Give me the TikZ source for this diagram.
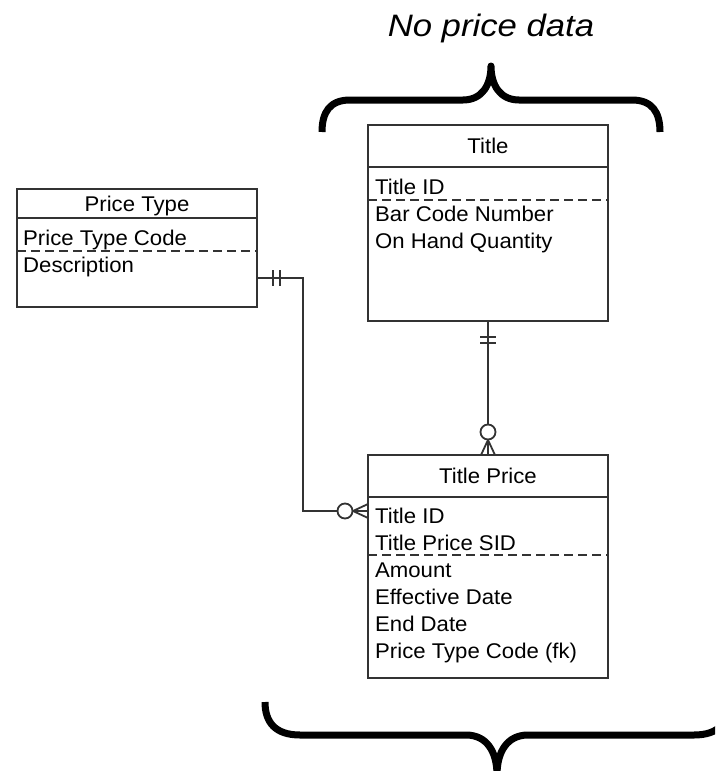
\documentclass[tikz,border=0pt]{standalone}
\usepackage{fontspec}
\setmainfont{Liberation Sans}[FakeStretch=1.04]
\newfontfamily\notefont{Liberation Sans}[FakeStretch=1.12]
\usetikzlibrary{positioning,calc}
\definecolor{erLine}{HTML}{333333}
\tikzset{
  entityhead/.style={draw=erLine, line width=1.8pt, minimum width=240pt, inner sep=0pt,
    outer sep=0pt, text height=15pt, text depth=0pt, font=\fontsize{21.3}{27}\selectfont},
  entitybody/.style={draw=erLine, line width=1.8pt, minimum width=240pt, inner sep=0pt,
    outer sep=0pt},
  attr/.style={anchor=base west, inner sep=0pt, font=\fontsize{21.3}{27}\selectfont},
  keyline/.style={draw=erLine, line width=1.6pt, dash pattern=on 9pt off 5pt},
  rel/.style={draw=erLine, line width=1.8pt},
  relmark/.style={draw=erLine, line width=1.8pt, fill=white},
  brace/.style={draw=black, line width=7pt, line join=round},
  notelabel/.style={font=\notefont\itshape\fontsize{31}{36}\selectfont}
}

\begin{document}
\begin{tikzpicture}[x=1pt,y=-1pt]
  \useasboundingbox (0,0) rectangle (715,771);
  \clip (0,0) rectangle (715,771);

  % entities
  \node[entityhead, minimum height=29pt] (ptype) at (137,203.5) {Price Type};
  \node[entitybody, minimum height=89pt, below=0pt of ptype] (ptypebody) {};
  \node[entityhead, minimum height=42pt] (title) at (488,146) {Title};
  \node[entitybody, minimum height=154pt, below=0pt of title] (titlebody) {};
  \node[entityhead, minimum height=42pt] (tprice) at (488,476) {Title Price};
  \node[entitybody, minimum height=181pt, below=0pt of tprice] (tpricebody) {};

  % attributes
  \node[attr] (ptcode) at ($(ptypebody.north west)+(6,27)$) {Price Type Code};
  \node[attr] (ptdesc) at ([yshift=-27pt]ptcode.base west) {Description};

  \node[attr] (tid) at ($(titlebody.north west)+(7,27)$) {Title ID};
  \node[attr] (tbarcode) at ([yshift=-27pt]tid.base west) {Bar Code Number};
  \node[attr] (tonhand) at ([yshift=-27pt]tbarcode.base west) {On Hand Quantity};

  \node[attr] (tpid) at ($(tpricebody.north west)+(7,26)$) {Title ID};
  \node[attr] (tpsid) at ([yshift=-27pt]tpid.base west) {Title Price SID};
  \node[attr] (tpamount) at ([yshift=-27pt]tpsid.base west) {Amount};
  \node[attr] (tpeff) at ([yshift=-27pt]tpamount.base west) {Effective Date};
  \node[attr] (tpend) at ([yshift=-27pt]tpeff.base west) {End Date};
  \node[attr] (tpcode) at ([yshift=-27pt]tpend.base west) {Price Type Code (fk)};

  % key separators
  \draw[keyline] ($(ptypebody.west |- ptcode.base)+(0,6)$) -- ($(ptypebody.east |- ptcode.base)+(0,6)$);
  \draw[keyline] ($(titlebody.west |- tid.base)+(0,6)$) -- ($(titlebody.east |- tid.base)+(0,6)$);
  \draw[keyline] ($(tpricebody.west |- tpsid.base)+(0,5)$) -- ($(tpricebody.east |- tpsid.base)+(0,5)$);

  % Title -> Title Price
  \draw[rel] (titlebody.south) -- (tprice.north);
  \draw[rel] ($(titlebody.south)+(-8,16)$) -- ++(16,0);
  \draw[rel] ($(titlebody.south)+(-8,22)$) -- ++(16,0);
  \draw[rel] ($(tprice.north)+(-7,0)$) -- ($(tprice.north)+(0,-15)$) -- ($(tprice.north)+(7,0)$);
  \draw[relmark] ($(tprice.north)+(0,-23)$) circle[radius=7.5];

  % Price Type -> Title Price
  \coordinate (ptout) at ($(ptypebody.south east)+(0,-29)$);
  \coordinate (tpin) at ($(tpricebody.north west)+(0,14)$);
  \draw[rel] (ptout) -- ++(46,0) |- (tpin);
  \draw[rel] ($(ptout)+(16,-8)$) -- ++(0,16);
  \draw[rel] ($(ptout)+(23,-8)$) -- ++(0,16);
  \draw[rel] ($(tpin)+(0,-7)$) -- ($(tpin)+(-15,0)$) -- ($(tpin)+(0,7)$);
  \draw[relmark] ($(tpin)+(-23,0)$) circle[radius=7.5];

  % braces
  \draw[brace] (322,132) .. controls (322,112) and (330,100) .. (350,100) -- (463,100)
    .. controls (482,100) and (491,85) .. (491,66) .. controls (491,85) and (500,100) .. (519,100)
    -- (632,100) .. controls (652,100) and (660,112) .. (660,132);
  \node[notelabel] (noprice) at (491,28) {No price data};

  \draw[brace] (265,702) .. controls (265,722) and (275,735) .. (300,735) -- (466,735)
    .. controls (487,735) and (497,752) .. (497,775) .. controls (497,752) and (507,735) .. (528,735)
    -- (694,735) .. controls (719,735) and (729,722) .. (729,702);
\end{tikzpicture}
\end{document}
